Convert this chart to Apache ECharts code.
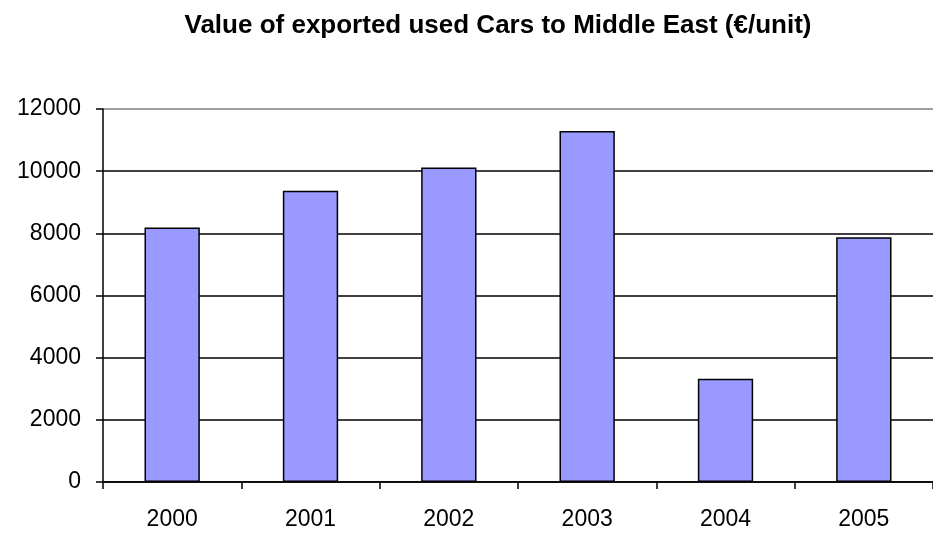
<!DOCTYPE html>
<html><head><meta charset="utf-8">
<script src="https://cdn.jsdelivr.net/npm/echarts@6/dist/echarts.min.js"></script>
<style>html,body{margin:0;padding:0;background:#fff}#c{width:933px;height:536px}</style>
</head><body><div id="c"></div>
<script>
const categories = ['2000','2001','2002','2003','2004','2005'];
const values = [8190, 9370, 10120, 11290, 3320, 7870];
const yTicks = [0, 2000, 4000, 6000, 8000, 10000, 12000];
const titleText = 'Value of exported used Cars to Middle East (€/unit)';

const chart = echarts.init(document.getElementById('c'), null, {renderer: 'canvas'});
chart.setOption({
  animation: false,
  backgroundColor: '#ffffff',
  title: {
    text: titleText, left: 493, top: 8, textAlign: 'center',
    textStyle: {fontFamily: 'Liberation Sans, Arial', fontWeight: 'bold', fontSize: 26, color: '#000'}
  },
  grid: {left: 103, top: 109, width: 840, height: 373, containLabel: false, show: false},
  xAxis: {
    type: 'category', data: categories,
    axisLine: {lineStyle: {color: '#000', width: 1.5}},
    axisTick: {show: true, length: 7, inside: false, lineStyle: {color: '#000', width: 1.5}},
    axisLabel: {fontFamily: 'Liberation Sans, Arial', fontSize: 23, color: '#000', margin: 26}
  },
  yAxis: {
    type: 'value', min: yTicks[0], max: yTicks[yTicks.length-1], interval: 2000,
    axisLine: {show: true, lineStyle: {color: '#000', width: 1.5}},
    axisTick: {show: true, length: 7, lineStyle: {color: '#000', width: 1.5}},
    axisLabel: {fontFamily: 'Liberation Sans, Arial', fontSize: 23, color: '#000', margin: 22,
      formatter: v => String(v)},
    splitLine: {show: true, lineStyle: {color: ['#000','#000','#000','#000','#000','#000','#808080'], width: 1.5}}
  },
  series: [{
    type: 'bar', data: values, barWidth: '40%',
    itemStyle: {color: '#9999FF', borderColor: '#000', borderWidth: 1.5}
  }]
});
</script></body></html>
